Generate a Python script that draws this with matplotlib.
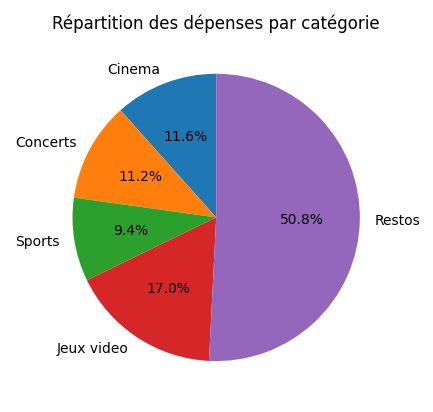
import matplotlib
matplotlib.use("Agg")
import matplotlib.pyplot as plt

categories = ["Cinema", "Concerts", "Sports", "Jeux video", "Restos"]
values = [11.6, 11.2, 9.4, 17.0, 50.8]

fig, ax = plt.subplots(figsize=(4.33, 4.12), dpi=100)
ax.pie(values, labels=categories, autopct="%1.1f%%", startangle=90)
ax.set_title("Répartition des dépenses par catégorie")
plt.tight_layout()
plt.savefig("out.png", dpi=100)
